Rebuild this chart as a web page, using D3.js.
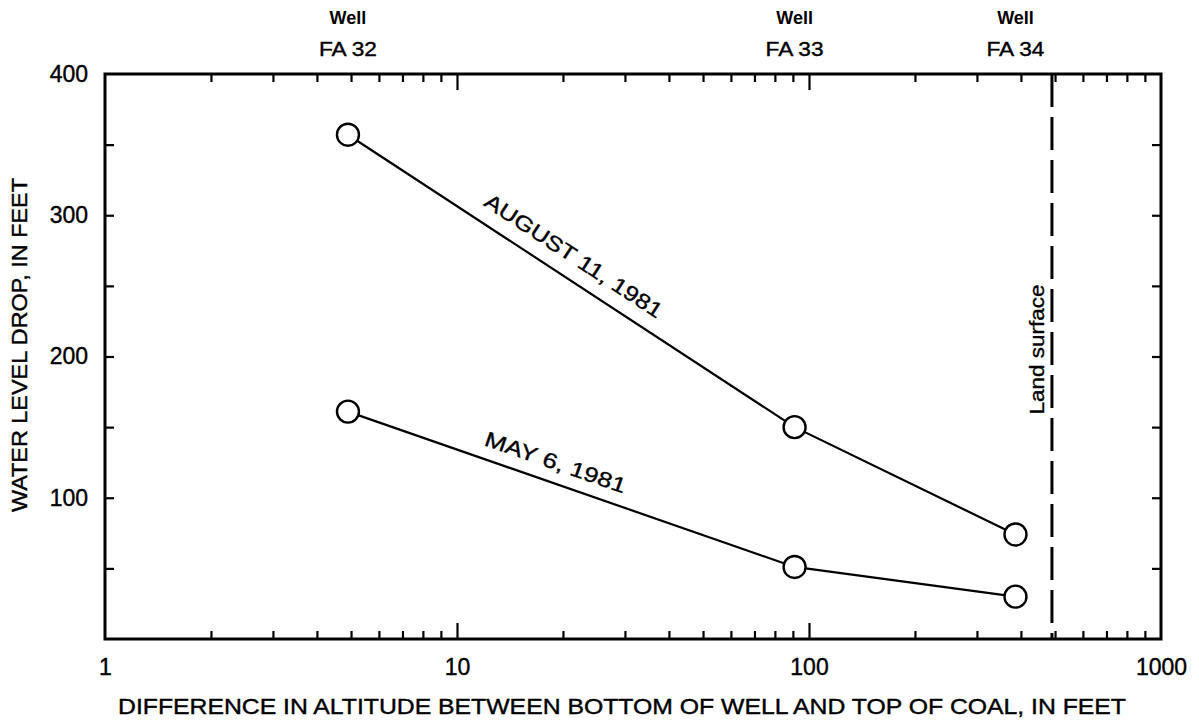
<!DOCTYPE html>
<html>
<head>
<meta charset="utf-8">
<script src="https://cdn.jsdelivr.net/npm/d3@7"></script>
<style>
  html, body { margin: 0; padding: 0; background: #fff; }
  svg { display: block; }
  text { font-family: "Liberation Sans", Arial, Helvetica, sans-serif; fill: #000; }
</style>
</head>
<body>
<svg id="chart" width="1199" height="724"></svg>
<script>
// Observation wells and their depth below coal top (x) and water-level drop (y)
const wells = ["FA 32", "FA 33", "FA 34"];
const depthDiff = [4.9, 91, 386];
const augustDrop = [357, 150, 74];
const mayDrop = [161, 51, 30];
const landSurface = 490;

const xTickLabels = [1, 10, 100, 1000];
const xMinorTicks = [2,3,4,5,6,7,8,9,20,30,40,50,60,70,80,90,200,300,400,500,600,700,800,900];
const xMajorTicks = [10, 100];
const yTickLabels = [100, 200, 300, 400];
const yTicks = [50, 100, 150, 200, 250, 300, 350];

const svg = d3.select("#chart");
const plotL = 105, plotR = 1161, plotT = 74, plotB = 639;

const x = d3.scaleLog().domain([1, 1000]).range([plotL, plotR]);
const y = d3.scaleLinear().domain([0, 400]).range([plotB, plotT]);

// inward ticks on all four sides
function tickAxis(axisFn, scale, values, len, tx, ty) {
  const g = svg.append("g")
    .attr("transform", `translate(${tx},${ty})`)
    .call(axisFn(scale).tickValues(values).tickSizeInner(-len).tickSizeOuter(0).tickFormat(""));
  g.select(".domain").remove();
  g.selectAll(".tick line").attr("stroke", "#000").attr("stroke-width", 2.2);
  return g;
}
tickAxis(d3.axisBottom, x, xMinorTicks, 8, 0, plotB);
tickAxis(d3.axisBottom, x, xMajorTicks, 16, 0, plotB);
tickAxis(d3.axisTop, x, xMinorTicks, 8, 0, plotT);
tickAxis(d3.axisTop, x, xMajorTicks, 16, 0, plotT);
tickAxis(d3.axisLeft, y, yTicks, 9, plotL, 0);
tickAxis(d3.axisRight, y, yTicks, 9, plotR, 0);

// tick labels
const xl = svg.append("g").attr("transform", `translate(0,${plotB})`)
  .call(d3.axisBottom(x).tickValues(xTickLabels).tickSize(0).tickPadding(20).tickFormat(d3.format("d")));
xl.select(".domain").remove();
xl.selectAll("text").style("font-size", "23px").attr("stroke", "#000").attr("stroke-width", 0.4);

const yl = svg.append("g").attr("transform", `translate(${plotL},0)`)
  .call(d3.axisLeft(y).tickValues(yTickLabels).tickSize(0).tickPadding(17).tickFormat(d3.format("d")));
yl.select(".domain").remove();
yl.selectAll("text").style("font-size", "23px").attr("stroke", "#000").attr("stroke-width", 0.4);

// frame
svg.append("rect")
  .attr("x", plotL).attr("y", plotT)
  .attr("width", plotR - plotL).attr("height", plotB - plotT)
  .attr("fill", "none").attr("stroke", "#000").attr("stroke-width", 3);

// land surface marker
svg.append("line")
  .attr("x1", x(landSurface)).attr("x2", x(landSurface))
  .attr("y1", plotT).attr("y2", plotB)
  .attr("stroke", "#000").attr("stroke-width", 3)
  .attr("stroke-dasharray", "33,10");
svg.append("text")
  .attr("transform", `translate(${x(landSurface) - 8},${y(205)}) rotate(-90)`)
  .attr("text-anchor", "middle")
  .attr("textLength", 130).attr("lengthAdjust", "spacingAndGlyphs")
  .style("font-size", "21px")
  .attr("stroke", "#000").attr("stroke-width", 0.35)
  .text("Land surface");

// well names above the frame
wells.forEach((w, i) => {
  const cx = x(depthDiff[i]);
  svg.append("text").attr("x", cx).attr("y", 24).attr("text-anchor", "middle")
    .style("font-size", "18px").style("font-weight", "bold")
    .text("Well");
  svg.append("text").attr("x", cx).attr("y", 56).attr("text-anchor", "middle")
    .attr("textLength", 58).attr("lengthAdjust", "spacingAndGlyphs")
    .style("font-size", "21px").attr("stroke", "#000").attr("stroke-width", 0.4)
    .text(w);
});

// series lines and markers
const series = [
  { name: "AUGUST 11, 1981", values: augustDrop, pos: 0.478, off: 15, len: 208 },
  { name: "MAY 6, 1981", values: mayDrop, pos: 0.45, off: 13, len: 148 }
];
const line = d3.line().x(d => x(d[0])).y(d => y(d[1]));

series.forEach(s => {
  const pts = depthDiff.map((d, i) => [d, s.values[i]]);
  svg.append("path").attr("d", line(pts))
    .attr("fill", "none").attr("stroke", "#000").attr("stroke-width", 2.2);
  svg.selectAll(null).data(pts).enter().append("circle")
    .attr("cx", d => x(d[0])).attr("cy", d => y(d[1])).attr("r", 11)
    .attr("fill", "#fff").attr("stroke", "#000").attr("stroke-width", 2.4);

  // label laid along the first segment
  const x0 = x(pts[0][0]), y0 = y(pts[0][1]), x1 = x(pts[1][0]), y1 = y(pts[1][1]);
  const ang = Math.atan2(y1 - y0, x1 - x0);
  const cx = x0 + (x1 - x0) * s.pos, cy = y0 + (y1 - y0) * s.pos;
  const px = cx + Math.sin(ang) * s.off, py = cy - Math.cos(ang) * s.off;
  svg.append("text")
    .attr("transform", `translate(${px},${py}) rotate(${ang * 180 / Math.PI})`)
    .attr("text-anchor", "middle")
    .attr("textLength", s.len).attr("lengthAdjust", "spacingAndGlyphs")
    .style("font-size", "21px")
    .attr("stroke", "#000").attr("stroke-width", 0.35)
    .text(s.name);
});

// axis titles
svg.append("text")
  .attr("x", 622).attr("y", 714).attr("text-anchor", "middle")
  .attr("textLength", 1008).attr("lengthAdjust", "spacingAndGlyphs")
  .style("font-size", "22px").attr("stroke", "#000").attr("stroke-width", 0.4)
  .text("DIFFERENCE IN ALTITUDE BETWEEN BOTTOM OF WELL AND TOP OF COAL, IN FEET");

svg.append("text")
  .attr("transform", "translate(27,345) rotate(-90)")
  .attr("text-anchor", "middle")
  .attr("textLength", 334).attr("lengthAdjust", "spacingAndGlyphs")
  .style("font-size", "22px").attr("stroke", "#000").attr("stroke-width", 0.4)
  .text("WATER LEVEL DROP, IN FEET");
</script>
</body>
</html>
